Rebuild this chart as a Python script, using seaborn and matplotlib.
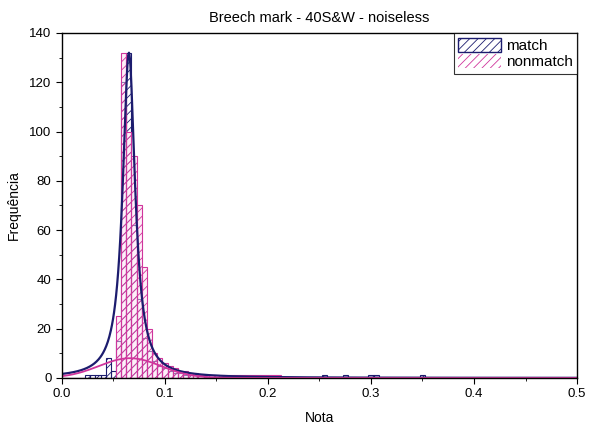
import numpy as np
import pandas as pd
import seaborn as sns
import matplotlib.pyplot as plt
from matplotlib.patches import Patch
from matplotlib.ticker import MultipleLocator

# Histogram counts (bin width 0.005, bin centers)
bin_centers = [0.025, 0.03, 0.035, 0.04, 0.045, 0.05, 0.055, 0.06, 0.065, 0.07,
               0.075, 0.08, 0.085, 0.09, 0.095, 0.1, 0.105, 0.11, 0.115, 0.12,
               0.125, 0.13, 0.135, 0.14, 0.145, 0.15, 0.155, 0.16, 0.165, 0.17,
               0.175, 0.18, 0.185, 0.19, 0.195, 0.2, 0.205, 0.21]
match_counts = [1, 1, 1, 1, 8, 3, 15, 120, 132, 62,
                32, 16, 11, 7, 5, 4, 3, 2, 2, 1,
                1, 1, 1, 1, 0, 1, 0, 0, 0, 0,
                0, 0, 0, 0, 0, 0, 0, 0]
nonmatch_counts = [0, 0, 0, 0, 0, 0, 25, 132, 100, 90,
                   70, 45, 20, 10, 8, 6, 5, 4, 3, 3,
                   2, 2, 1, 1, 1, 1, 1, 1, 1, 1,
                   1, 1, 1, 1, 1, 1, 1, 1]
# isolated match outliers
outlier_x = [0.255, 0.275, 0.3, 0.305, 0.35]
outlier_counts = [1, 1, 1, 1, 1]

# fit curves: Lorentz for match, Gauss for nonmatch (parameters)
lorentz_xc, lorentz_w, lorentz_h = 0.065, 0.0145, 132
gauss_xc, gauss_sigma, gauss_h = 0.066, 0.03, 8

binw = 0.005
navy = '#1c1c6e'
pink = '#d0359c'

plt.rcParams['font.family'] = ['Liberation Sans', 'DejaVu Sans']
plt.rcParams['hatch.linewidth'] = 0.6

fig = plt.figure(figsize=(5.9, 4.28), dpi=100)
ax = fig.add_axes([0.105, 0.117, 0.873, 0.806])

edges = [round(i * binw - binw / 2, 4) for i in range(102)]
mx = bin_centers + outlier_x
mc = match_counts + outlier_counts
df_m = pd.DataFrame({'x': mx, 'n': mc})
df_n = pd.DataFrame({'x': bin_centers, 'n': nonmatch_counts})

n_before = len(ax.patches)
sns.histplot(data=df_m, x='x', weights='n', bins=edges, ax=ax,
             color=navy, edgecolor=navy, linewidth=0.8)
for p in ax.patches[n_before:]:
    p.set_facecolor('none')
    p.set_hatch('////')
n_before = len(ax.patches)
sns.histplot(data=df_n, x='x', weights='n', bins=edges, ax=ax,
             color=pink, edgecolor=pink, linewidth=0.8)
for p in ax.patches[n_before:]:
    p.set_facecolor((1, 0.88, 0.96, 0.5))
    p.set_hatch('////')

xs = np.linspace(0, 0.5, 1000)
lor = lorentz_h * lorentz_w ** 2 / (4 * (xs - lorentz_xc) ** 2 + lorentz_w ** 2)
gau = gauss_h * np.exp(-(xs - gauss_xc) ** 2 / (2 * gauss_sigma ** 2))
sns.lineplot(x=xs, y=lor, color=navy, linewidth=1.6, ax=ax)
sns.lineplot(x=xs, y=gau, color=pink, linewidth=1.3, ax=ax)

ax.set_xlim(0, 0.5)
ax.set_ylim(0, 140)
ax.xaxis.set_major_locator(MultipleLocator(0.1))
ax.xaxis.set_minor_locator(MultipleLocator(0.05))
ax.yaxis.set_major_locator(MultipleLocator(20))
ax.yaxis.set_minor_locator(MultipleLocator(10))
ax.xaxis.set_major_formatter(plt.FuncFormatter(lambda v, _: f'{v:.1f}'))
ax.tick_params(which='both', direction='out', labelsize=9.5, top=False, right=False)
ax.tick_params(which='major', length=4)
ax.tick_params(which='minor', length=2)
for s in ax.spines.values():
    s.set_linewidth(1.0)
    s.set_color('black')

ax.set_title('Breech mark - 40S&W - noiseless', fontsize=10.5, pad=8)
ax.set_xlabel('Nota', fontsize=10, labelpad=8)
ax.set_ylabel('Frequência', fontsize=10, labelpad=6)

handles = [Patch(facecolor='none', edgecolor=navy, hatch='////', label='match'),
           Patch(facecolor='none', edgecolor=pink, hatch='////', linewidth=0, label='nonmatch')]
leg = ax.legend(handles=handles, loc='upper right', fontsize=11, frameon=True,
                fancybox=False, edgecolor='black', borderaxespad=0.0, borderpad=0.3,
                handlelength=2.8, handleheight=1.1, handletextpad=0.3, labelspacing=0.05)
leg.get_frame().set_linewidth(0.8)

fig.savefig('out.png', dpi=100)
